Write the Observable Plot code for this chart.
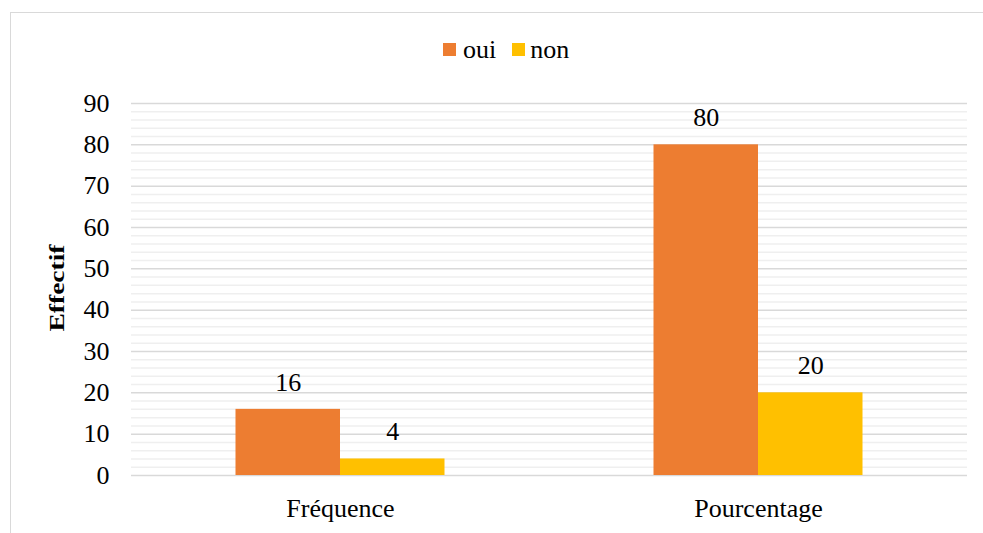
<!DOCTYPE html>
<html>
<head>
<meta charset="utf-8">
<script src="https://cdn.jsdelivr.net/npm/d3@7"></script>
<script src="https://cdn.jsdelivr.net/npm/@observablehq/plot@0.6"></script>
<style>
  html, body { margin: 0; padding: 0; background: #fff; overflow: hidden; }
  #wrap, #wrap * { font-family: "Liberation Serif", "Times New Roman", serif !important; }
  #wrap { position: relative; width: 983px; height: 533px; }
  #frame { position: absolute; left: 10px; top: 12px; width: 1000px; height: 600px; border: 1.5px solid #d9d9d9; box-sizing: border-box; }
  #chart { position: absolute; left: 0; top: 0; }
  #chart svg text { font-size: 26px; }
  #legend { position: absolute; top: 35px; left: 443px; height: 30px; font-size: 26px; line-height: 30px; color: #000; white-space: nowrap; }
  #legend span.sw { display: inline-block; width: 13px; height: 13px; vertical-align: 2px; }
  #legend span.item { display: inline-block; }
  #ylabel { position: absolute; left: 57px; top: 288px; transform: translate(-50%, -50%) rotate(-90deg) scaleX(1.25); font-weight: bold; font-size: 22px; line-height: 22px; white-space: nowrap; }
</style>
</head>
<body>
<div id="wrap">
  <div id="frame"></div>
  <div id="chart"></div>
  <div id="legend"></div>
  <div id="ylabel"></div>
</div>
<script>
const categories = ["Fréquence", "Pourcentage"];
const series = ["oui", "non"];
const ouiValues = [16, 80];
const nonValues = [4, 20];
const colors = ["#ED7D31", "#FFC000"];
const yTicks = [0, 10, 20, 30, 40, 50, 60, 70, 80, 90];
const yMinorTicks = [2,4,6,8,12,14,16,18,22,24,26,28,32,34,36,38,42,44,46,48,52,54,56,58,62,64,66,68,72,74,76,78,82,84,86,88];
const yAxisTitle = "Effectif";

const data = [];
categories.forEach((c, i) => {
  data.push({cat: c, series: "oui", value: ouiValues[i]});
  data.push({cat: c, series: "non", value: nonValues[i]});
});

const chart = Plot.plot({
  width: 983,
  height: 533,
  marginLeft: 131,
  marginRight: 16,
  marginTop: 103,
  marginBottom: 58,
  style: {fontFamily: "Liberation Serif, serif", fontSize: "26px", color: "#000", background: "transparent"},
  fx: {domain: categories, padding: 0, label: null, axis: "bottom", tickSize: 0, tickPadding: 23},
  x: {domain: series, paddingInner: 0, paddingOuter: 1, axis: null, round: false},
  y: {domain: [0, 90], ticks: yTicks, tickSize: 0, tickPadding: 22, label: null},
  color: {domain: series, range: colors},
  marks: [
    Plot.ruleY(yMinorTicks, {stroke: "#efefef", strokeWidth: 1.5}),
    Plot.ruleY(yTicks, {stroke: "#d9d9d9", strokeWidth: 1.5}),
    Plot.barY(data, {fx: "cat", x: "series", y: "value", fill: "series"}),
    Plot.text(data, {fx: "cat", x: "series", y: "value", text: d => String(d.value), dy: -27, fill: "#000", fontSize: 26})
  ]
});
document.getElementById("chart").appendChild(chart);

document.getElementById("ylabel").textContent = yAxisTitle;
const legend = document.getElementById("legend");
const gaps = [[7, 16], [5, 0]];
series.forEach((s, i) => {
  const item = document.createElement("span");
  item.className = "item";
  item.style.marginRight = gaps[i][1] + "px";
  const sw = document.createElement("span");
  sw.className = "sw";
  sw.style.background = colors[i];
  sw.style.marginRight = gaps[i][0] + "px";
  item.appendChild(sw);
  item.appendChild(document.createTextNode(s));
  legend.appendChild(item);
});
</script>
</body>
</html>
